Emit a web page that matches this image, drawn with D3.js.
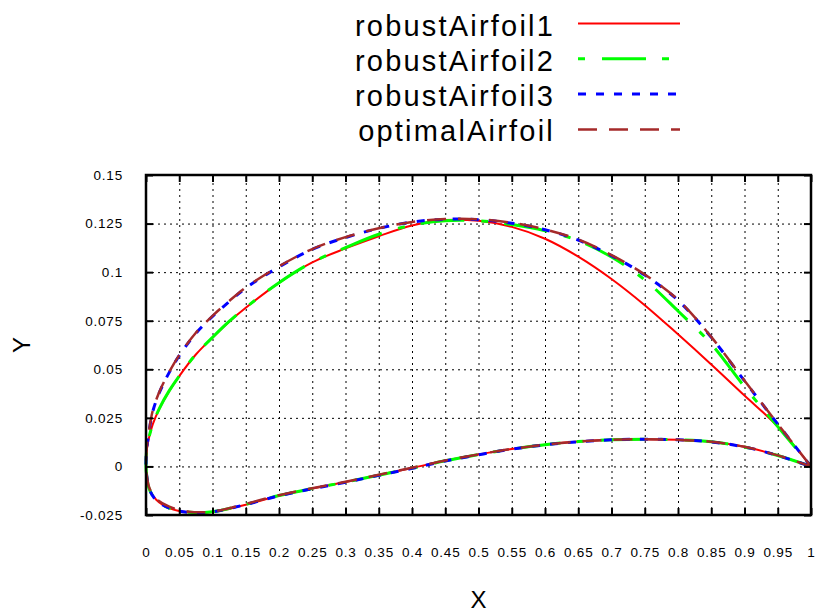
<!DOCTYPE html>
<html>
<head>
<meta charset="utf-8">
<script src="https://cdn.jsdelivr.net/npm/d3@7"></script>
<style>
  body { margin: 0; background: #fff; }
  text { font-family: "Liberation Sans", Arial, sans-serif; fill: #000; }
</style>
</head>
<body>
<div id="chart"></div>
<script>
// legend names, in drawing order
var seriesNames = ["robustAirfoil1", "robustAirfoil2", "robustAirfoil3", "optimalAirfoil"];

// upper surface stations, trailing edge -> leading edge
var upperX = [1, 0.95, 0.9, 0.85, 0.8, 0.75, 0.7, 0.65, 0.6, 0.55, 0.5, 0.45, 0.4, 0.35,
              0.3, 0.25, 0.2, 0.15, 0.125, 0.1, 0.075, 0.05, 0.035, 0.02, 0.01, 0.004, 0.001, 0];
var upper1 = [0, 0.0205, 0.0365, 0.0525, 0.068, 0.083, 0.0965, 0.108, 0.1172, 0.1233, 0.1264, 0.1268, 0.124, 0.1185,
              0.1122, 0.105, 0.0945, 0.0817, 0.0745, 0.0663, 0.0576, 0.0465, 0.0388, 0.0296, 0.0215, 0.014, 0.008, 0];
var upper2 = [0, 0.0205, 0.041, 0.063, 0.080, 0.096, 0.1078, 0.1162, 0.1213, 0.1245, 0.1264, 0.1265, 0.1242, 0.1195,
              0.1126, 0.1051, 0.0946, 0.0818, 0.0746, 0.0664, 0.0577, 0.0466, 0.039, 0.0298, 0.0216, 0.0142, 0.0082, 0];
var upper3 = [0, 0.0218, 0.044, 0.0665, 0.0855, 0.0985, 0.1085, 0.1165, 0.1218, 0.1252, 0.127, 0.1272, 0.1258, 0.1225,
              0.1178, 0.1117, 0.1027, 0.0918, 0.0848, 0.0772, 0.0685, 0.057, 0.0484, 0.0379, 0.028, 0.0165, 0.0085, 0];
var upper4 = [0, 0.0219, 0.0442, 0.0667, 0.0858, 0.0988, 0.1088, 0.1168, 0.122, 0.1254, 0.1272, 0.1273, 0.1258, 0.1226,
              0.118, 0.1119, 0.103, 0.0921, 0.0851, 0.0775, 0.0688, 0.0573, 0.0487, 0.0383, 0.0285, 0.017, 0.009, 0];

// lower surface stations, leading edge -> trailing edge
var lowerX = [0, 0.001, 0.005, 0.015, 0.035, 0.065, 0.1, 0.15, 0.2, 0.25, 0.3, 0.35, 0.4,
              0.45, 0.5, 0.55, 0.6, 0.65, 0.7, 0.75, 0.8, 0.85, 0.9, 0.95, 1];
var lower1 = [0, -0.0045, -0.0115, -0.017, -0.0214, -0.0237, -0.0235, -0.0197, -0.0151, -0.0114, -0.008, -0.0044, -0.0008,
              0.003, 0.0062, 0.009, 0.0112, 0.0128, 0.0137, 0.014, 0.0137, 0.0127, 0.0101, 0.0057, 0];
var lower2 = [0, -0.0046, -0.0117, -0.0172, -0.0214, -0.0236, -0.0233, -0.0195, -0.015, -0.0114, -0.0081, -0.0045, -0.0009,
              0.0029, 0.0061, 0.0089, 0.0112, 0.0128, 0.0137, 0.014, 0.0137, 0.0127, 0.01, 0.0056, 0];
var lower3 = [0, -0.0047, -0.0118, -0.0173, -0.0215, -0.0237, -0.0234, -0.0196, -0.0151, -0.0115, -0.0082, -0.0046, -0.001,
              0.0028, 0.006, 0.0089, 0.0111, 0.0127, 0.0137, 0.014, 0.0137, 0.0126, 0.01, 0.0056, 0];
var lower4 = [0, -0.0044, -0.011, -0.0165, -0.0207, -0.0233, -0.0232, -0.0193, -0.0148, -0.0112, -0.0079, -0.0043, -0.0007,
              0.003, 0.0062, 0.009, 0.0112, 0.0128, 0.0137, 0.014, 0.0137, 0.0127, 0.0101, 0.0057, 0];

var upperY = [upper1, upper2, upper3, upper4];
var lowerY = [lower1, lower2, lower3, lower4];

// tick values and labels
var xTicks = [0, 0.05, 0.1, 0.15, 0.2, 0.25, 0.3, 0.35, 0.4, 0.45, 0.5, 0.55, 0.6, 0.65, 0.7, 0.75, 0.8, 0.85, 0.9, 0.95, 1];
var xTickLabels = ["0", "0.05", "0.1", "0.15", "0.2", "0.25", "0.3", "0.35", "0.4", "0.45", "0.5",
                   "0.55", "0.6", "0.65", "0.7", "0.75", "0.8", "0.85", "0.9", "0.95", "1"];
var yTicks = [-0.025, 0, 0.025, 0.05, 0.075, 0.1, 0.125, 0.15];
var yTickLabels = ["-0.025", "0", "0.025", "0.05", "0.075", "0.1", "0.125", "0.15"];

// line styles per series
var colors = ["#ff0000", "#00ff00", "#0000ff", "#a52a2a"];
var widths = [2, 3, 3, 2.5];
var dashes = [null, "7,17,44,16", "8,10", "19,12"];

var svgWidth = 817, svgHeight = 615;
var margin = { top: 175, right: 6, bottom: 100, left: 146 },
    width = svgWidth - margin.left - margin.right,
    height = svgHeight - margin.top - margin.bottom;

var svg = d3.select("#chart").append("svg")
    .attr("width", svgWidth)
    .attr("height", svgHeight);

var g = svg.append("g")
    .attr("transform", "translate(" + margin.left + "," + margin.top + ")");

var x = d3.scaleLinear().domain([0, 1]).range([0, width]);
var y = d3.scaleLinear().domain([-0.025, 0.15]).range([height, 0]);

// dotted grid on the interior ticks
var gridX = g.append("g")
    .attr("transform", "translate(0," + height + ")")
    .call(d3.axisBottom(x).tickValues(xTicks.slice(1, -1)).tickSize(-height).tickFormat(""));
var gridY = g.append("g")
    .call(d3.axisLeft(y).tickValues(yTicks.slice(1, -1)).tickSize(-width).tickFormat(""));
[gridX, gridY].forEach(function (gr) {
    gr.select(".domain").remove();
    gr.selectAll("line")
        .attr("stroke", "#000")
        .attr("stroke-width", 1)
        .attr("stroke-dasharray", "2,4");
});

// airfoil outlines
var line = d3.line()
    .x(d => x(d[0]))
    .y(d => y(d[1]))
    .curve(d3.curveCatmullRom.alpha(0.5));

seriesNames.forEach(function (name, i) {
    var pts = upperX.map((v, k) => [v, upperY[i][k]])
        .concat(lowerX.slice(1).map((v, k) => [v, lowerY[i][k + 1]]));
    g.append("path")
        .datum(pts)
        .attr("d", line)
        .attr("fill", "none")
        .attr("stroke", colors[i])
        .attr("stroke-width", widths[i])
        .attr("stroke-dasharray", dashes[i])
        .attr("stroke-linejoin", "round");
});

// axes with inward ticks on all four sides
var bottomAxis = g.append("g")
    .attr("transform", "translate(0," + height + ")")
    .call(d3.axisBottom(x).tickValues(xTicks).tickSizeInner(-7).tickSizeOuter(0).tickPadding(32)
        .tickFormat((d, i) => xTickLabels[i]));
var topAxis = g.append("g")
    .call(d3.axisTop(x).tickValues(xTicks).tickSizeInner(-7).tickSizeOuter(0).tickFormat(""));
var leftAxis = g.append("g")
    .call(d3.axisLeft(y).tickValues(yTicks).tickSizeInner(-7).tickSizeOuter(0).tickPadding(23)
        .tickFormat((d, i) => yTickLabels[i]));
var rightAxis = g.append("g")
    .attr("transform", "translate(" + width + ",0)")
    .call(d3.axisRight(y).tickValues(yTicks).tickSizeInner(-7).tickSizeOuter(0).tickFormat(""));

[bottomAxis, topAxis, leftAxis, rightAxis].forEach(function (ax) {
    ax.select(".domain").remove();
    ax.selectAll("line").attr("stroke", "#000").attr("stroke-width", 2);
    ax.selectAll("text")
        .style("font-family", '"Liberation Sans", Arial, sans-serif')
        .style("font-size", "13.5px")
        .style("letter-spacing", "0.8px");
});

// frame
g.append("rect")
    .attr("width", width)
    .attr("height", height)
    .attr("fill", "none")
    .attr("stroke", "#000")
    .attr("stroke-width", 2.5);

// axis titles
svg.append("text")
    .attr("x", margin.left + width / 2)
    .attr("y", 608)
    .attr("text-anchor", "middle")
    .style("font-size", "24px")
    .text("X");
svg.append("text")
    .attr("transform", "translate(30," + (margin.top + height / 2) + ") rotate(-90)")
    .attr("text-anchor", "middle")
    .style("font-size", "24px")
    .text("Y");

// legend
var legend = svg.append("g");
seriesNames.forEach(function (name, i) {
    var cy = 23.5 + i * 35.3;
    legend.append("text")
        .attr("x", 555)
        .attr("y", cy + 12)
        .attr("text-anchor", "end")
        .style("font-size", "29px")
        .style("letter-spacing", "2.2px")
        .text(name);
    legend.append("line")
        .attr("x1", 578).attr("x2", 680)
        .attr("y1", cy).attr("y2", cy)
        .attr("stroke", colors[i])
        .attr("stroke-width", widths[i])
        .attr("stroke-dasharray", dashes[i]);
});
</script>
</body>
</html>
